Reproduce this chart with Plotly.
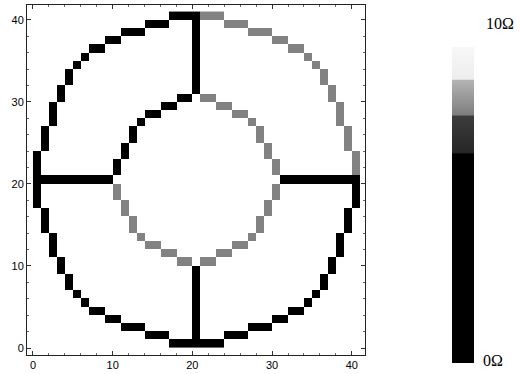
import numpy as np
import plotly.graph_objects as go

# Grid size (cells 0..40 in both directions)
N_COLS = 41
N_ROWS = 41

# Resistance values
BLACK_OHM = 0.0
GRAY_OHM = 7.3
CMIN, CMAX = 0.0, 10.0

# Runs of cells (row, first col, last col)
BLACK_RUNS = [
    (40, 17, 20),
    (39, 14, 16), (39, 20, 20),
    (38, 11, 13), (38, 20, 20),
    (37, 9, 10), (37, 20, 20),
    (36, 7, 8), (36, 20, 20),
    (35, 6, 6), (35, 20, 20),
    (34, 5, 5), (34, 20, 20),
    (33, 4, 4), (33, 20, 20),
    (32, 4, 4), (32, 20, 20),
    (31, 3, 3), (31, 20, 20),
    (30, 3, 3), (30, 18, 19),
    (29, 2, 2), (29, 16, 17),
    (28, 2, 2), (28, 14, 15),
    (27, 2, 2), (27, 13, 13),
    (26, 1, 1), (26, 12, 12),
    (25, 1, 1), (25, 12, 12),
    (24, 1, 1), (24, 11, 11),
    (23, 0, 0), (23, 11, 11),
    (22, 0, 0), (22, 10, 10),
    (21, 0, 0), (21, 10, 10),
    (20, 0, 9), (20, 31, 40),
    (19, 0, 0), (19, 40, 40),
    (18, 0, 0), (18, 40, 40),
    (17, 0, 0), (17, 40, 40),
    (16, 1, 1), (16, 39, 39),
    (15, 1, 1), (15, 39, 39),
    (14, 1, 1), (14, 39, 39),
    (13, 2, 2), (13, 38, 38),
    (12, 2, 2), (12, 38, 38),
    (11, 2, 2), (11, 38, 38),
    (10, 3, 3), (10, 37, 37),
    (9, 3, 3), (9, 20, 20), (9, 37, 37),
    (8, 4, 4), (8, 20, 20), (8, 36, 36),
    (7, 4, 4), (7, 20, 20), (7, 36, 36),
    (6, 5, 5), (6, 20, 20), (6, 35, 35),
    (5, 6, 6), (5, 20, 20), (5, 34, 34),
    (4, 7, 8), (4, 20, 20), (4, 32, 33),
    (3, 9, 10), (3, 20, 20), (3, 30, 31),
    (2, 11, 13), (2, 20, 20), (2, 27, 29),
    (1, 14, 16), (1, 20, 20), (1, 24, 26),
    (0, 17, 23),
]

GRAY_RUNS = [
    (40, 21, 23),
    (39, 24, 26),
    (38, 27, 29),
    (37, 30, 31),
    (36, 32, 33),
    (35, 34, 34),
    (34, 35, 35),
    (33, 36, 36),
    (32, 36, 36),
    (31, 37, 37),
    (30, 21, 22), (30, 37, 37),
    (29, 23, 24), (29, 38, 38),
    (28, 25, 26), (28, 38, 38),
    (27, 27, 27), (27, 38, 38),
    (26, 28, 28), (26, 39, 39),
    (25, 28, 28), (25, 39, 39),
    (24, 29, 29), (24, 39, 39),
    (23, 29, 29), (23, 40, 40),
    (22, 30, 30), (22, 40, 40),
    (21, 30, 30), (21, 40, 40),
    (19, 10, 10), (19, 30, 30),
    (18, 10, 10), (18, 30, 30),
    (17, 11, 11), (17, 29, 29),
    (16, 11, 11), (16, 29, 29),
    (15, 12, 12), (15, 28, 28),
    (14, 12, 12), (14, 28, 28),
    (13, 13, 13), (13, 27, 27),
    (12, 14, 15), (12, 25, 26),
    (11, 16, 17), (11, 23, 24),
    (10, 18, 19), (10, 21, 22),
]

AXIS_TICKS = [0, 10, 20, 30, 40]
CBAR_LABELS = ["0Ω", "10Ω"]

z = np.full((N_ROWS, N_COLS), np.nan)
for r, c0, c1 in BLACK_RUNS:
    z[r, c0:c1 + 1] = BLACK_OHM
for r, c0, c1 in GRAY_RUNS:
    z[r, c0:c1 + 1] = GRAY_OHM

colorscale = [
    [0.0, "#000000"], [0.610, "#000000"],
    [0.612, "#262626"], [0.720, "#3c3c3c"],
    [0.723, "#7e7e7e"], [0.825, "#b4b4b4"],
    [0.827, "#ededed"], [0.920, "#f7f7f7"],
    [0.922, "#ffffff"], [1.0, "#ffffff"],
]

# plot area: l=27, r=155, t=5, b=19 -> 338 x 350 px
fig = go.Figure(go.Heatmap(
    z=z, x0=0.5, dx=1, y0=0.5, dy=1,
    zmin=CMIN, zmax=CMAX, colorscale=colorscale,
    hoverongaps=False,
    colorbar=dict(
        x=1.2565, xanchor="left", xpad=0,
        y=-0.0229, yanchor="bottom", ypad=0,
        lenmode="pixels", len=343,
        thicknessmode="pixels", thickness=22,
        outlinewidth=0, ticks="", showticklabels=False,
    ),
))

axis_common = dict(
    showgrid=False, zeroline=False, automargin=False,
    showline=True, linecolor="#222222", linewidth=1, mirror="allticks",
    ticks="inside", ticklen=4, tickcolor="#333333", tickwidth=1,
    tickvals=AXIS_TICKS, ticktext=[str(v) for v in AXIS_TICKS],
    tickfont=dict(family="Liberation Sans, Arial, sans-serif", size=11, color="#000000"),
    minor=dict(ticks="inside", ticklen=2, dtick=2, tickcolor="#666666"),
)

fig.update_xaxes(range=[-0.75, 41.66], **axis_common)
fig.update_yaxes(range=[-0.85, 41.8], **axis_common)

label_font = dict(family="Liberation Serif, Times New Roman, serif", size=16, color="#000000")
fig.add_annotation(text=CBAR_LABELS[1], xref="paper", yref="paper",
                   x=1.399, y=0.947, xanchor="center", yanchor="middle",
                   showarrow=False, font=label_font)
fig.add_annotation(text=CBAR_LABELS[0], xref="paper", yref="paper",
                   x=1.378, y=-0.0143, xanchor="center", yanchor="middle",
                   showarrow=False, font=label_font)

fig.update_layout(
    width=520, height=374,
    margin=dict(l=27, r=155, t=5, b=19, autoexpand=False),
    paper_bgcolor="#ffffff", plot_bgcolor="#ffffff",
    showlegend=False,
)

fig.write_html("out.html",
               config={"displayModeBar": False},
               post_script="document.body.style.margin='0px';document.body.style.overflow='hidden';")
